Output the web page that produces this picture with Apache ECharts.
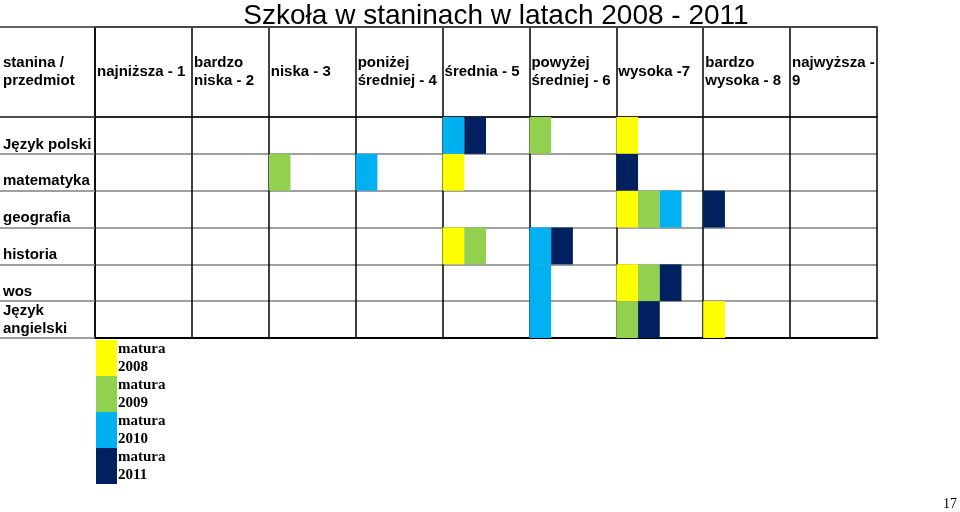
<!DOCTYPE html>
<html>
<head>
<meta charset="utf-8">
<script src="https://cdn.jsdelivr.net/npm/echarts@6/dist/echarts.min.js"></script>
<style>html,body{margin:0;padding:0;background:#fff;}#c{width:960px;height:512px;}</style>
</head>
<body>
<div id="c"></div>
<script>
const title = 'Szkoła w staninach w latach 2008 - 2011';
const cornerLabel = 'stanina /\nprzedmiot';
const headers = ['najniższa - 1','bardzo\nniska - 2','niska - 3','poniżej\nśredniej - 4','średnia - 5','powyżej\nśredniej - 6','wysoka -7','bardzo\nwysoka - 8','najwyższa -\n9'];
const subjects = ['Język polski','matematyka','geografia','historia','wos','Język\nangielski'];
const years = ['matura 2008','matura 2009','matura 2010','matura 2011'];
// stanine per subject (same order as subjects)
const matura2008 = [7,5,7,5,7,8];
const matura2009 = [6,3,7,5,7,7];
const matura2010 = [5,4,7,6,6,6];
const matura2011 = [5,7,8,6,7,7];
const yearColors = ['#FFFF00','#92D050','#00B0F0','#002060'];
const pageNumber = '17';

// layout: column edges on the x axis (first column is slightly wider, second narrower)
const colEdges = [0, 1.116, 2, 3, 4, 5, 6, 7, 8, 9];
const BLOCK = 0.25; // block width in axis units (4 per standard column)

const allYears = [matura2008, matura2009, matura2010, matura2011];
const FONT = "'Liberation Sans', Arial, sans-serif";
const SERIF = "'Liberation Serif', 'Times New Roman', serif";

function slotOf(yi, si){
  let n = 0;
  for (let j = 0; j < yi; j++) if (allYears[j][si] === allYears[yi][si]) n++;
  return n;
}

function renderBlock(params, api){
  const st = api.value(0), si = api.value(1), slot = api.value(2);
  const left = colEdges[st - 1] + slot * BLOCK;
  const p0 = api.coord([left, si]);
  const p1 = api.coord([left + BLOCK, si]);
  const rowH = api.size([0, 1])[1];
  return {
    type: 'rect',
    shape: { x: p0[0], y: p0[1] - rowH / 2, width: p1[0] - p0[0], height: rowH },
    style: { fill: api.visual('color') }
  };
}

const series = years.map((name, yi) => ({
  name: name,
  type: 'custom',
  xAxisIndex: 0,
  yAxisIndex: 0,
  renderItem: renderBlock,
  itemStyle: { color: yearColors[yi] },
  encode: { x: 0, y: 1 },
  z: 5,
  data: allYears[yi].map((st, si) => [st, si, slotOf(yi, si)])
}));

const labelStyle = { fontFamily: FONT, fontSize: 15, fontWeight: 'bold', color: '#000', lineHeight: 18 };

const chart = echarts.init(document.getElementById('c'), null, { renderer: 'canvas' });
chart.setOption({
  animation: false,
  backgroundColor: '#fff',
  color: yearColors,
  title: {
    text: title, left: 491, top: -3, textAlign: 'center',
    textStyle: { fontFamily: FONT, fontSize: 28, fontWeight: 'normal', color: '#000' }
  },
  legend: {
    orient: 'vertical', left: 96, top: 340, itemWidth: 21, itemHeight: 36, itemGap: 0,
    icon: 'rect', selectedMode: false, padding: 0,
    data: years,
    formatter: n => n.replace(' ', '\n'),
    textStyle: { fontFamily: SERIF, fontSize: 15, fontWeight: 'bold', color: '#000', lineHeight: 18, padding: [0, 0, 0, -4] }
  },
  grid: [
    { left: 95, right: 83, top: 117, bottom: 174 },
    { left: 95, right: 83, top: 27, height: 90 }
  ],
  xAxis: [
    { gridIndex: 0, type: 'value', min: 0, max: 9, position: 'top',
      axisLine: { show: true, lineStyle: { color: '#000', width: 1.5 } },
      axisTick: { show: false, customValues: colEdges },
      splitLine: { show: true, lineStyle: { color: '#000', width: 1.5 } },
      axisLabel: Object.assign({ show: true, customValues: colEdges.slice(0, 9), showMinLabel: true, hideOverlap: false,
        formatter: v => { const i = colEdges.indexOf(v); return i >= 0 && i < headers.length ? headers[i] : ''; },
        align: 'left', verticalAlign: 'middle', margin: 45, padding: [0,0,0,2] }, labelStyle)
    },
    { gridIndex: 0, type: 'value', min: 0, max: 9, position: 'bottom',
      axisLine: { show: true, lineStyle: { color: '#000', width: 2 } },
      axisTick: { show: false }, splitLine: { show: false }, axisLabel: { show: false }
    },
    { gridIndex: 1, type: 'value', min: 0, max: 9, position: 'top',
      axisLine: { show: true, lineStyle: { color: '#444', width: 2 } },
      axisTick: { show: false, customValues: colEdges },
      splitLine: { show: true, lineStyle: { color: '#000', width: 1.5 } },
      axisLabel: { show: false }
    }
  ],
  yAxis: [
    { gridIndex: 0, type: 'category', data: subjects, inverse: true,
      axisLine: { show: true, lineStyle: { color: '#000', width: 1.5 } },
      axisTick: { show: true, length: 95, lineStyle: { color: '#808080', width: 1.5 } },
      splitLine: { show: true, lineStyle: { color: '#808080', width: 1.5 } },
      axisLabel: Object.assign({ align: 'left', margin: 92, formatter: v => v.indexOf('\n') >= 0 ? v : '\n' + v }, labelStyle)
    },
    { gridIndex: 1, type: 'category', data: [cornerLabel],
      axisLine: { show: true, lineStyle: { color: '#000', width: 1.5 } },
      axisTick: { show: true, length: 95, lineStyle: { color: '#333', width: 1.5 } },
      splitLine: { show: false },
      axisLabel: Object.assign({ align: 'left', margin: 92 }, labelStyle)
    }
  ],
  graphic: [
    { type: 'text', right: 3, bottom: 1, style: { text: pageNumber, font: "14px " + SERIF, fill: '#000' } }
  ],
  series: series
});
</script>
</body>
</html>
